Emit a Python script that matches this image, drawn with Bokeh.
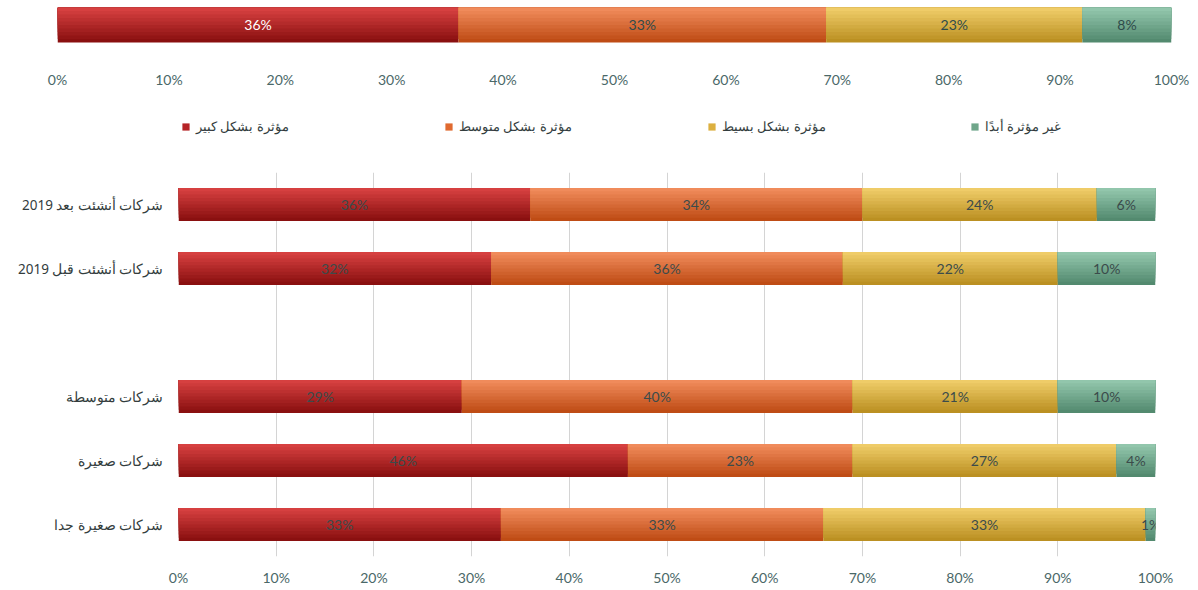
from bokeh.plotting import figure
from bokeh.models import Range1d, FactorRange, FixedTicker, ColumnDataSource, Legend, LegendItem
from bokeh.transform import dodge
from bokeh.core.properties import value
from bokeh.embed import file_html
from bokeh.resources import INLINE

# ---------------- data ----------------
series = ["مؤثرة بشكل كبير", "مؤثرة بشكل متوسط", "مؤثرة بشكل بسيط", "غير مؤثرة أبدًا"]
overall = [36, 33, 23, 8]

categories = ["شركات أنشئت بعد 2019", "شركات أنشئت قبل 2019",
              "شركات متوسطة", "شركات صغيرة", "شركات صغيرة جدا"]
strong = [36, 32, 29, 46, 33]
medium = [34, 36, 40, 23, 33]
weak = [24, 22, 21, 27, 33]
none_ = [6, 10, 10, 4, 1]

ticks = [0, 10, 20, 30, 40, 50, 60, 70, 80, 90, 100]

# ---------------- style ----------------
top_cols = ["#d64040", "#f08b5b", "#efcc68", "#92c6ac"]
bot_cols = ["#8a1010", "#bf4c15", "#bb9022", "#538a6f"]
mid_cols = ["#b52326", "#e06a30", "#dcb040", "#6fa68a"]
TICK_COL = "#4a6868"
NUM_FONT = "Lato"
N_BANDS = 10


def mix(c1, c2, t):
    a = [int(c1[i:i + 2], 16) for i in (1, 3, 5)]
    b = [int(c2[i:i + 2], 16) for i in (1, 3, 5)]
    return "#%02x%02x%02x" % tuple(round(a[j] + (b[j] - a[j]) * t) for j in range(3))


def stack_sources(rows, yvals):
    srcs = []
    lefts = [0] * len(yvals)
    for vals in rows:
        rights = [l + v for l, v in zip(lefts, vals)]
        srcs.append(ColumnDataSource(dict(
            y=yvals, left=lefts, right=rights,
            mid=[(l + r) / 2 for l, r in zip(lefts, rights)],
            label=["%d%%" % v for v in vals])))
        lefts = rights
    return srcs


def draw_bars(p, srcs, bar_h, categorical):
    for s, src in enumerate(srcs):
        for k in range(N_BANDS):
            frac = k / N_BANDS
            col = mix(bot_cols[s], top_cols[s], k / (N_BANDS - 1))
            off = frac * bar_h / 2
            if categorical:
                yv = dodge("y", off, range=p.y_range)
            else:
                yv = dodge("y", off)
            p.hbar(y=yv, left="left", right="right", height=bar_h * (1 - frac),
                   source=src, fill_color=col, line_color=None)


W = 1190

# ---------------- top chart ----------------
top = figure(width=W, height=92, output_backend="svg", toolbar_location=None,
             x_range=Range1d(0, 100), y_range=Range1d(0, 1),
             min_border_left=57, min_border_right=19, min_border_top=7,
             min_border_bottom=34)
top_srcs = stack_sources([[v] for v in overall], [0.657])
draw_bars(top, top_srcs, 0.686, False)
for s, src in enumerate(top_srcs):
    top.text(x="mid", y="y", text="label", source=src, text_align="center",
             text_baseline="middle", text_font=value(NUM_FONT), text_font_size="14px",
             text_color="#ffffff" if s == 0 else "#2f4b4b")
top.yaxis.visible = False
top.xaxis.ticker = FixedTicker(ticks=ticks)
top.xaxis.major_label_overrides = {t: "%d%%" % t for t in ticks}
top.xaxis.axis_line_color = None
top.xaxis.major_tick_line_color = None
top.xaxis.minor_tick_line_color = None
top.xaxis.major_label_standoff = 6
top.xaxis.major_label_text_font = NUM_FONT
top.xaxis.major_label_text_font_size = "14px"
top.xaxis.major_label_text_color = TICK_COL
top.grid.visible = False
top.outline_line_color = None

# ---------------- legend strip ----------------
leg = figure(width=W, height=55, output_backend="svg", toolbar_location=None,
             x_range=Range1d(0, 1), y_range=Range1d(0, 1),
             min_border_left=0, min_border_right=0, min_border_top=0, min_border_bottom=0)
leg.axis.visible = False
leg.grid.visible = False
leg.outline_line_color = None
items = []
for s, name in enumerate(series):
    r = leg.hbar(y=[0.5], left=[0], right=[0], height=0.01, fill_color=mid_cols[s], line_color=None)
    items.append(LegendItem(label=name, renderers=[r]))
legend = Legend(items=items, orientation="horizontal", location=(181, 12),
                glyph_width=9, glyph_height=9, label_standoff=6, label_width=248,
                spacing=0, padding=0, margin=0, border_line_color=None,
                background_fill_alpha=0, label_text_font="Noto Sans",
                label_text_font_size="12.5px", label_text_color="#333d3d")
leg.add_layout(legend, "center")

# ---------------- bottom chart ----------------
factors = categories[:2] + [" "] + categories[2:]
bot = figure(width=W, height=441, output_backend="svg", toolbar_location=None,
             x_range=Range1d(0, 100), y_range=FactorRange(factors=factors[::-1], range_padding=0),
             min_border_left=178, min_border_right=35, min_border_top=25,
             min_border_bottom=32)
bot_srcs = stack_sources([strong, medium, weak, none_], categories)
draw_bars(bot, bot_srcs, 0.515, True)
for s, src in enumerate(bot_srcs):
    bot.text(x="mid", y="y", text="label", source=src, text_align="center",
             text_baseline="middle", text_font=value(NUM_FONT), text_font_size="14px",
             text_color="#3b4b4b")
bot.xaxis.ticker = FixedTicker(ticks=ticks)
bot.xaxis.major_label_overrides = {t: "%d%%" % t for t in ticks}
bot.xaxis.axis_line_color = None
bot.xaxis.major_tick_line_color = None
bot.xaxis.minor_tick_line_color = None
bot.xaxis.major_label_standoff = 6
bot.xaxis.major_label_text_font = NUM_FONT
bot.xaxis.major_label_text_font_size = "14px"
bot.xaxis.major_label_text_color = TICK_COL
bot.yaxis.axis_line_color = None
bot.yaxis.major_tick_line_color = None
bot.yaxis.major_label_standoff = 9
bot.yaxis.major_label_text_font = "Noto Sans"
bot.yaxis.major_label_text_font_size = "13.5px"
bot.yaxis.major_label_text_color = "#333d3d"
bot.xgrid.grid_line_color = "#d4d4d4"
bot.xgrid.grid_line_width = 1
bot.ygrid.visible = False
bot.outline_line_color = None

open("out.html", "w").write(file_html([top, leg, bot], INLINE))
